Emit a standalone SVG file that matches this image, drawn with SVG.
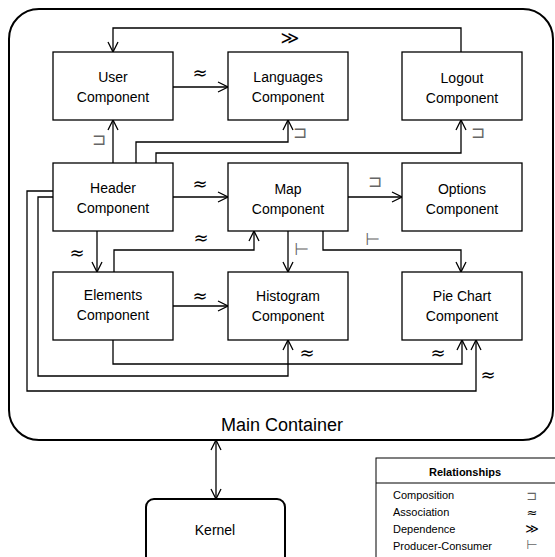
<svg xmlns="http://www.w3.org/2000/svg" width="555" height="557" viewBox="0 0 555 557">
<style>
.box{fill:#fff;stroke:#000;stroke-width:1.3}
.t{font-family:"Liberation Sans",Arial,sans-serif;font-size:14px;text-anchor:middle;fill:#000}
.c{fill:none;stroke:#000;stroke-width:1.3}
.sym{font-family:"DejaVu Sans",sans-serif;font-size:18px;text-anchor:middle;fill:#000}
.gsym{font-family:"DejaVu Sans",sans-serif;font-size:17px;text-anchor:middle;fill:#666}
.lg{font-family:"Liberation Sans",Arial,sans-serif;font-size:11px;fill:#000}
.ls{font-size:13px}
</style>
<defs>
<marker id="a" viewBox="0 0 12 12" refX="11" refY="6" markerWidth="12" markerHeight="12" markerUnits="userSpaceOnUse" orient="auto-start-reverse">
<path d="M1,1 L11,6 L1,11" fill="none" stroke="#000" stroke-width="1.3"/>
</marker>
</defs>
<rect width="555" height="557" fill="#fff"/>
<g id="main-container">
<rect x="9" y="9" width="544" height="431" rx="30" ry="30" fill="#fff" stroke="#000" stroke-width="2"/>
<text x="282" y="431" style="font-family:'Liberation Sans',Arial,sans-serif;font-size:18px;text-anchor:middle">Main Container</text>
</g>
<g id="connectors">
<polyline class="c" points="461,52 461,28 113,28 113,52" marker-end="url(#a)"/>
<line class="c" x1="173" y1="87" x2="228" y2="87" marker-end="url(#a)"/>
<line class="c" x1="113" y1="163" x2="113" y2="120" marker-end="url(#a)"/>
<polyline class="c" points="136,163 136,142 288,142 288,120" marker-end="url(#a)"/>
<polyline class="c" points="156,163 156,153 461,153 461,120" marker-end="url(#a)"/>
<line class="c" x1="173" y1="197" x2="228" y2="197" marker-end="url(#a)"/>
<line class="c" x1="97" y1="231" x2="97" y2="272" marker-end="url(#a)"/>
<polyline class="c" points="114,272 114,250 254,250 254,231" marker-end="url(#a)"/>
<line class="c" x1="348" y1="197" x2="402" y2="197" marker-end="url(#a)"/>
<line class="c" x1="288" y1="231" x2="288" y2="272" marker-end="url(#a)"/>
<polyline class="c" points="323,231 323,250 461,250 461,272" marker-end="url(#a)"/>
<line class="c" x1="173" y1="306" x2="228" y2="306" marker-end="url(#a)"/>
<polyline class="c" points="113,340 113,364 462,364 462,340" marker-end="url(#a)"/>
<polyline class="c" points="53,197 38,197 38,376 288,376 288,340" marker-end="url(#a)"/>
<polyline class="c" points="53,191 27,191 27,391 476,391 476,340" marker-end="url(#a)"/>
<line class="c" x1="216" y1="440" x2="216" y2="499" marker-start="url(#a)" marker-end="url(#a)"/>
<text class="sym" x="290" y="44">≫</text>
<text class="sym" x="200" y="79">≈</text>
<text class="sym" x="200" y="190">≈</text>
<text class="sym" x="77" y="259">≈</text>
<text class="sym" x="201" y="244">≈</text>
<text class="sym" x="200" y="302">≈</text>
<text class="sym" x="307" y="359">≈</text>
<text class="sym" x="438" y="359">≈</text>
<text class="sym" x="488" y="381">≈</text>
<text class="gsym" x="99" y="145">⊐</text>
<text class="gsym" x="300" y="138">⊐</text>
<text class="gsym" x="478" y="138">⊐</text>
<text class="gsym" x="375" y="187">⊐</text>
<text class="gsym" x="302" y="255">⊢</text>
<text class="gsym" x="373" y="245">⊢</text>
</g>
<g id="user"><rect class="box" x="53" y="52" width="120" height="68"/><text class="t" x="113" y="82">User</text><text class="t" x="113" y="102">Component</text></g>
<g id="languages"><rect class="box" x="228" y="52" width="120" height="68"/><text class="t" x="288" y="82">Languages</text><text class="t" x="288" y="102">Component</text></g>
<g id="logout"><rect class="box" x="402" y="52" width="120" height="68"/><text class="t" x="462" y="83">Logout</text><text class="t" x="462" y="103">Component</text></g>
<g id="header"><rect class="box" x="53" y="163" width="120" height="68"/><text class="t" x="113" y="193">Header</text><text class="t" x="113" y="213">Component</text></g>
<g id="map"><rect class="box" x="228" y="163" width="120" height="68"/><text class="t" x="288" y="194">Map</text><text class="t" x="288" y="214">Component</text></g>
<g id="options"><rect class="box" x="402" y="163" width="120" height="68"/><text class="t" x="462" y="194">Options</text><text class="t" x="462" y="214">Component</text></g>
<g id="elements"><rect class="box" x="53" y="272" width="120" height="68"/><text class="t" x="113" y="300">Elements</text><text class="t" x="113" y="320">Component</text></g>
<g id="histogram"><rect class="box" x="228" y="272" width="120" height="68"/><text class="t" x="288" y="301">Histogram</text><text class="t" x="288" y="321">Component</text></g>
<g id="piechart"><rect class="box" x="402" y="272" width="120" height="68"/><text class="t" x="462" y="301">Pie Chart</text><text class="t" x="462" y="321">Component</text></g>
<g id="kernel"><rect x="146" y="499" width="139" height="80" rx="8" ry="8" fill="#fff" stroke="#000" stroke-width="2"/><text class="t" x="215" y="535">Kernel</text></g>
<g id="legend">
<rect x="376" y="458" width="190" height="110" fill="#fff" stroke="#000" stroke-width="1"/>
<line x1="376" y1="483" x2="566" y2="483" stroke="#000" stroke-width="1"/>
<text class="lg" x="465" y="476" style="font-weight:bold;text-anchor:middle">Relationships</text>
<text class="lg" x="393" y="499">Composition</text>
<text class="lg" x="393" y="516">Association</text>
<text class="lg" x="393" y="533">Dependence</text>
<text class="lg" x="393" y="550">Producer-Consumer</text>
<text class="gsym ls" x="532" y="500">⊐</text>
<text class="sym ls" x="532" y="517">≈</text>
<text class="sym ls" x="532" y="533">≫</text>
<text class="gsym ls" x="532" y="549">⊢</text>
</g>
</svg>
